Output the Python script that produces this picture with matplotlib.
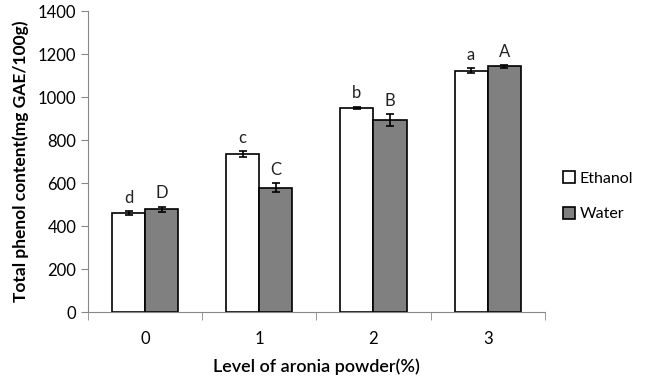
import numpy as np
import matplotlib.pyplot as plt

levels = ['0', '1', '2', '3']
ethanol = [460, 735, 950, 1122]
ethanol_err = [8, 12, 5, 12]
water = [478, 578, 893, 1143]
water_err = [12, 20, 28, 6]
ethanol_letters = ['d', 'c', 'b', 'a']
water_letters = ['D', 'C', 'B', 'A']

plt.rcParams['font.family'] = ['Lato', 'DejaVu Sans']

fig = plt.figure(figsize=(6.47, 3.81), dpi=100)
ax = fig.add_axes([0.136, 0.181, 0.706, 0.79])

pos = np.arange(len(levels))
width = 0.29

ax.bar(pos - width / 2, ethanol, width, color='white', edgecolor='black', linewidth=1.2,
       yerr=ethanol_err, capsize=3, error_kw={'elinewidth': 1.2, 'capthick': 1.2}, label='Ethanol')
ax.bar(pos + width / 2, water, width, color='#808080', edgecolor='black', linewidth=1.2,
       yerr=water_err, capsize=3, error_kw={'elinewidth': 1.2, 'capthick': 1.2}, label='Water')

# significance letters above bars
for i in range(len(levels)):
    ax.text(pos[i] - width / 2, ethanol[i] + ethanol_err[i] + 25, ethanol_letters[i],
            ha='center', va='bottom', fontsize=12, color='#222222')
    ax.text(pos[i] + width / 2, water[i] + water_err[i] + 25, water_letters[i],
            ha='center', va='bottom', fontsize=12, color='#222222')

ax.set_xlim(-0.5, len(levels) - 0.5)
ax.set_ylim(0, 1400)
ax.set_yticks(range(0, 1401, 200))
ax.set_xticks(pos)
ax.set_xticklabels(levels)
ax.set_xticks(np.arange(-0.5, len(levels), 1), minor=True)
ax.tick_params(axis='x', which='major', length=0, pad=14, labelsize=12)
ax.tick_params(axis='x', which='minor', length=6, color='#888888', direction='out')
ax.tick_params(axis='y', length=5, color='#888888', labelsize=12)

for s in ['top', 'right']:
    ax.spines[s].set_visible(False)
for s in ['left', 'bottom']:
    ax.spines[s].set_color('#888888')

ax.set_ylabel('Total phenol content(mg GAE/100g)', fontsize=12.5, fontweight='bold', labelpad=6)
ax.set_xlabel('Level of aronia powder(%)', fontsize=13, fontweight='semibold', labelpad=8)

ax.legend(loc='center left', bbox_to_anchor=(1.02, 0.385), frameon=False, fontsize=11.5,
          handlelength=0.7, handleheight=0.8, handletextpad=0.3, labelspacing=1.3,
          borderaxespad=0.2)

fig.savefig('out.png', dpi=100)
